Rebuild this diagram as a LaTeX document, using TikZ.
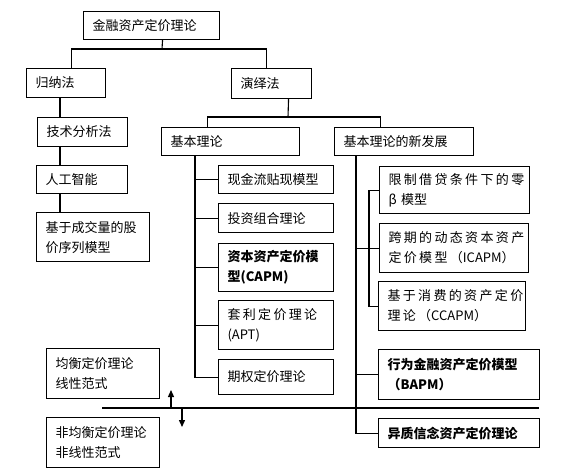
\documentclass[tikz,border=0pt]{standalone}
\usepackage{fontspec}
\newfontfamily\cjk{Noto Sans CJK SC}
\newcommand\lat[1]{{\cjk #1}}
\usetikzlibrary{arrows.meta,positioning}

\begin{document}
\begin{tikzpicture}[
  x=1pt, y=-1pt,
  box/.style 2 args={draw, line width=1.1pt, anchor=north west, align=left,
              inner xsep=9pt, inner ysep=0pt, minimum width=#1, minimum height=#2,
              text width=#1-18pt, font=\cjk\fontsize{13}{20}\selectfont},
  bbox/.style={font=\cjk\bfseries\fontsize{13}{20}\selectfont},
  sbox/.style={font=\cjk\fontsize{13}{20}\selectfont\addfontfeature{LetterSpace=18}},
  link/.style={line width=1.1pt},
  arr/.style={-{Triangle[length=7pt,width=6pt]}, line width=1.3pt}
]
\useasboundingbox (0,0) rectangle (567,474);

% top levels
\node[box={136pt}{28pt}] (root) at (83,11) {金融资产定价理论};
\node[box={79pt}{29pt}]  (ind)  at (26,68)  {归纳法};
\node[box={80pt}{30pt}]  (ded)  at (231,68) {演绎法};

% inductive branch
\node[box={90pt}{29pt}]  (tech) at (37,117) {技术分析法};
\node[box={91pt}{28pt}]  (ai)   at (36,165) {人工智能};
\node[box={113pt}{49pt}] (vol)  at (36,212) {基于成交量的股\\价序列模型};

% deductive branch
\node[box={138pt}{28pt}] (basic)  at (161,127) {基本理论};
\node[box={139pt}{28pt}] (newdev) at (334,127) {基本理论的新发展};

\node[box={115pt}{28pt}]  (dcf)  at (218,165) {现金流贴现模型};
\node[box={115pt}{29pt}]  (port) at (218,203) {投资组合理论};
\node[box={115pt}{48pt}, bbox] (capm) at (218,243) {资本资产定价模\\型(CAPM)};
\node[box={115pt}{49pt}, sbox] (apt)  at (218,300) {套利定价理论\\\lat{(APT)}};
\node[box={115pt}{35pt}]  (opt)  at (218,359) {期权定价理论};

\node[box={150pt}{47pt}, sbox] (zb)    at (379,166) {限制借贷条件下的零\\\lat{β 模型}};
\node[box={149pt}{49pt}, sbox] (icapm) at (379,223) {跨期的动态资本资产\\定价模型（\lat{ICAPM}）};
\node[box={147pt}{49pt}, sbox] (ccapm) at (378,281) {基于消费的资产定价\\理论（\lat{CCAPM}）};
\node[box={161pt}{50pt}, bbox] (bapm)  at (378,349) {行为金融资产定价模型\\（BAPM）};
\node[box={161pt}{29pt}, bbox] (het)   at (378,418) {异质信念资产定价理论};

% equilibrium labels
\node[box={113pt}{50pt}] (eq)  at (46,348) {均衡定价理论\\线性范式};
\node[box={113pt}{50pt}] (neq) at (46,417) {非均衡定价理论\\非线性范式};

% spines
\coordinate (jt) at (162,49);
\coordinate (jd) at (288,117);
\coordinate (lx) at (60,0);
\coordinate (mx) at (195,0);
\coordinate (rx) at (356,0);
\coordinate (sx) at (369,0);

\draw[link] ([xshift=11pt]root.south) -- (jt);
\draw[link] ([xshift=5.5pt]ind.north) |- (jt) -| ([xshift=-5pt]ded.north);
\draw[link] ([xshift=17pt]ded.south) -- (jd);
\draw[link] ([xshift=-23pt]basic.north) |- (jd) -| ([xshift=-23.5pt]newdev.north);

\draw[link] (lx |- ind.south) -- (lx |- tech.north);
\draw[link] (lx |- tech.south) -- (lx |- ai.north);
\draw[link] (lx |- ai.south) -- (lx |- vol.north);

\draw[link] (mx |- basic.south) |- (opt.west);
\foreach \b in {dcf,port,capm,apt}
  \draw[link] (mx |- \b.west) -- (\b.west);

\draw[link] (rx |- newdev.south) |- (het.west);
\foreach \b in {icapm,bapm}
  \draw[link] (rx |- \b.west) -- (\b.west);
\draw[link] (zb.west) -- (sx |- zb.west) -- (sx |- ccapm.west) -- (ccapm.west);

% dividing line and arrows
\coordinate (hl) at (102,408);
\coordinate (hr) at (539,408);
\coordinate (ua) at (171,408);
\coordinate (ub) at (171,390);
\coordinate (da) at (182,408);
\coordinate (db) at (182,427);
\draw[line width=1.6pt] (hl) -- (hr);
\draw[arr] (ua) -- (ub);
\draw[arr] (da) -- (db);
\end{tikzpicture}
\end{document}
